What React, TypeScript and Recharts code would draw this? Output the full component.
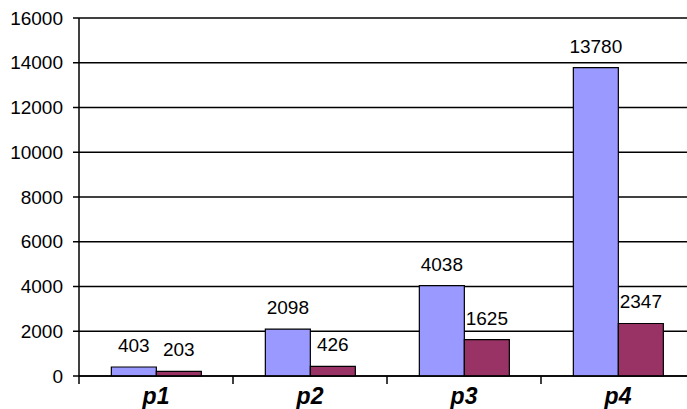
import { Bar, BarChart, CartesianGrid, LabelList, XAxis, YAxis } from 'recharts';

const categories = ['p1', 'p2', 'p3', 'p4'];
const firstSeries = [403, 2098, 4038, 13780];
const secondSeries = [203, 426, 1625, 2347];
const yTicks = [0, 2000, 4000, 6000, 8000, 10000, 12000, 14000, 16000];

const data = categories.map((name, i) => ({
  name,
  a: firstSeries[i],
  b: secondSeries[i],
}));

const FONT = "Arial, 'Liberation Sans', sans-serif";

function CategoryTick(props: any) {
  const { x, y, payload, index, visibleTicksCount, width } = props;
  const band = width && visibleTicksCount ? width / visibleTicksCount : 154;
  const axisY = y - 12;
  const left = x - band / 2;
  return (
    <g>
      <line x1={left} x2={left} y1={axisY} y2={axisY + 8} stroke="#000" strokeWidth={1.5} />
      {index === visibleTicksCount - 1 && (
        <line
          x1={left + band}
          x2={left + band}
          y1={axisY}
          y2={axisY + 8}
          stroke="#000"
          strokeWidth={1.5}
        />
      )}
      <text
        x={x}
        y={axisY + 28}
        textAnchor="middle"
        fontFamily={FONT}
        fontSize={23}
        fontWeight="bold"
        fontStyle="italic"
        fill="#000"
      >
        {payload.value}
      </text>
    </g>
  );
}

export default function App() {
  return (
    <div
      style={{
        position: 'absolute',
        left: 0,
        top: 0,
        width: 687,
        height: 409,
        overflow: 'hidden',
        background: '#fff',
      }}
    >
      <BarChart
        width={695}
        height={409}
        data={data}
        margin={{ top: 18, right: 0, bottom: 0, left: 0 }}
        barCategoryGap="21%"
        barGap={0}
      >
        <CartesianGrid vertical={false} stroke="#000" strokeWidth={1.5} />
        <XAxis
          dataKey="name"
          height={33}
          stroke="#000"
          strokeWidth={1.5}
          tickLine={false}
          tickSize={8}
          tickMargin={4}
          tick={<CategoryTick />}
          interval={0}
        />
        <YAxis
          width={79}
          domain={[0, 16000]}
          ticks={yTicks}
          stroke="#000"
          strokeWidth={1.5}
          tickSize={6}
          tickMargin={10}
          tick={{ fill: '#000', fontSize: 19, fontFamily: FONT }}
          interval={0}
        />
        <Bar dataKey="a" fill="#9999ff" stroke="#000" strokeWidth={1.2} isAnimationActive={false}>
          <LabelList
            dataKey="a"
            position="top"
            offset={15}
            fill="#000"
            fontSize={19}
            fontFamily={FONT}
          />
        </Bar>
        <Bar dataKey="b" fill="#993366" stroke="#000" strokeWidth={1.2} isAnimationActive={false}>
          <LabelList
            dataKey="b"
            position="top"
            offset={15}
            fill="#000"
            fontSize={19}
            fontFamily={FONT}
          />
        </Bar>
      </BarChart>
    </div>
  );
}
